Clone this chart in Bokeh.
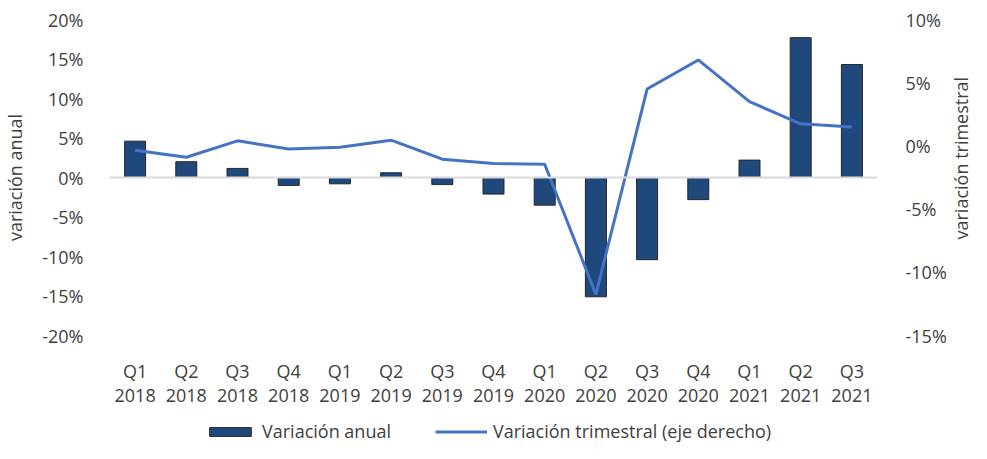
import math
from bokeh.plotting import figure
from bokeh.layouts import column, row
from bokeh.core.properties import value
from bokeh.models import (Range1d, LinearAxis, FixedTicker, Span, Legend, LegendItem,
                          ColumnDataSource)
from bokeh.embed import file_html
from bokeh.resources import INLINE

quarters = ["Q1", "Q2", "Q3", "Q4", "Q1", "Q2", "Q3", "Q4", "Q1", "Q2", "Q3", "Q4", "Q1", "Q2", "Q3"]
years = ["2018", "2018", "2018", "2018", "2019", "2019", "2019", "2019",
         "2020", "2020", "2020", "2020", "2021", "2021", "2021"]
variacion_anual = [4.6, 2.0, 1.15, -1.0, -0.8, 0.6, -0.9, -2.1,
                   -3.5, -15.1, -10.4, -2.8, 2.2, 17.7, 14.3]
variacion_trimestral = [-0.35, -0.9, 0.4, -0.25, -0.1, 0.45, -1.05, -1.4,
                        -1.45, -11.75, 4.5, 6.8, 3.5, 1.75, 1.5]
left_ticks = [-20, -15, -10, -5, 0, 5, 10, 15, 20]
right_ticks = [-15, -10, -5, 0, 5, 10]
series_names = ["Variación anual", "Variación trimestral (eje derecho)"]
left_title = "variación anual"
right_title = "variación trimestral"

FONT = "Open Sans"
TXT = "#404040"
FS = "18px"
BAR_FILL = "#1F497D"
BAR_LINE = "#262626"
LINE_COL = "#4472C4"

TOTAL_W, TOTAL_H = 971, 443
LEG_H = 34
LAB_W = 22
MAIN_W = TOTAL_W - LAB_W
MAIN_H = TOTAL_H - LEG_H
TOP, BOTTOM, LEFT, RIGHT = 19, MAIN_H - 340, 105, MAIN_W - 878

x = list(range(len(quarters)))
src = ColumnDataSource(dict(x=x, anual=variacion_anual, trim=variacion_trimestral))

p = figure(width=MAIN_W, height=MAIN_H, output_backend="svg", toolbar_location=None,
           x_range=Range1d(-0.5, len(quarters) - 0.5), y_range=Range1d(-20, 20),
           min_border_left=LEFT, min_border_right=RIGHT, min_border_top=TOP,
           min_border_bottom=BOTTOM)
p.extra_y_ranges = {"right": Range1d(-15, 10)}
p.outline_line_color = None
p.grid.visible = False

zero = Span(location=0, dimension="width", line_color="#D9D9D9", line_width=2)
p.add_layout(zero)

p.vbar(x="x", top="anual", bottom=0, width=0.41, source=src,
       fill_color=BAR_FILL, line_color=BAR_LINE, line_width=1)
p.line(x="x", y="trim", source=src, y_range_name="right",
       line_color=LINE_COL, line_width=3)

def style_axis(ax):
    ax.axis_line_color = None
    ax.major_tick_line_color = None
    ax.minor_tick_line_color = None
    ax.major_label_text_font = FONT
    ax.major_label_text_font_size = FS
    ax.major_label_text_color = TXT
    ax.axis_label_text_font = FONT
    ax.axis_label_text_font_size = FS
    ax.axis_label_text_color = TXT
    ax.axis_label_text_font_style = "normal"

xa = p.xaxis[0]
style_axis(xa)
xa.ticker = FixedTicker(ticks=x)
xa.major_label_overrides = {i: f"{q}\n{y}" for i, (q, y) in enumerate(zip(quarters, years))}
xa.major_label_standoff = 17
xa.major_label_text_line_height = 1.0

ya = p.yaxis[0]
style_axis(ya)
ya.ticker = FixedTicker(ticks=left_ticks)
ya.major_label_overrides = {v: f"{v}%" for v in left_ticks}
ya.major_label_standoff = 20
ya.axis_label = left_title
ya.axis_label_standoff = 12

ra = LinearAxis(y_range_name="right")
style_axis(ra)
ra.ticker = FixedTicker(ticks=right_ticks)
ra.major_label_overrides = {v: f"{v}%" for v in right_ticks}
ra.major_label_standoff = 22
p.add_layout(ra, "right")

# narrow panel holding the right-axis title, read bottom-to-top
frame_mid = 1 - (TOP + (MAIN_H - TOP - BOTTOM) / 2) / MAIN_H
lab = figure(width=LAB_W, height=MAIN_H, output_backend="svg", toolbar_location=None,
             x_range=Range1d(0, 1), y_range=Range1d(0, 1),
             min_border_left=0, min_border_right=0, min_border_top=0, min_border_bottom=0,
             x_axis_location=None, y_axis_location=None)
lab.outline_line_color = None
lab.grid.visible = False
lab.text(x=[0.5], y=[frame_mid], text=[right_title], angle=math.pi / 2,
         text_align="center", text_baseline="middle", text_font=value(FONT),
         text_font_size=FS, text_color=TXT)

# legend panel: renderers share the data but sit outside this panel's visible range
leg = figure(width=TOTAL_W, height=LEG_H, output_backend="svg", toolbar_location=None,
             x_range=Range1d(1000, 1001), y_range=Range1d(1000, 1001),
             min_border_left=0, min_border_right=0, min_border_top=0, min_border_bottom=0,
             x_axis_location=None, y_axis_location=None)
leg.outline_line_color = None
leg.grid.visible = False
r_bar = leg.vbar(x="x", top="anual", bottom=0, width=0.41, source=src,
                 fill_color=BAR_FILL, line_color=BAR_LINE, line_width=1)
r_line = leg.line(x="x", y="trim", source=src, line_color=LINE_COL, line_width=3)
legend = Legend(items=[LegendItem(label=series_names[0], renderers=[r_bar]),
                       LegendItem(label=series_names[1], renderers=[r_line])],
                orientation="horizontal", location=(204, 0))
legend.label_text_font = FONT
legend.label_text_font_size = FS
legend.label_text_color = TXT
legend.glyph_width = 52
legend.glyph_height = 11
legend.label_standoff = 6
legend.spacing = 44
legend.padding = 5
legend.margin = 0
legend.border_line_color = None
legend.background_fill_alpha = 0
leg.add_layout(legend, "center")

layout = column(row(p, lab, spacing=0), leg, spacing=0)
open("out.html", "w").write(file_html(layout, INLINE))
